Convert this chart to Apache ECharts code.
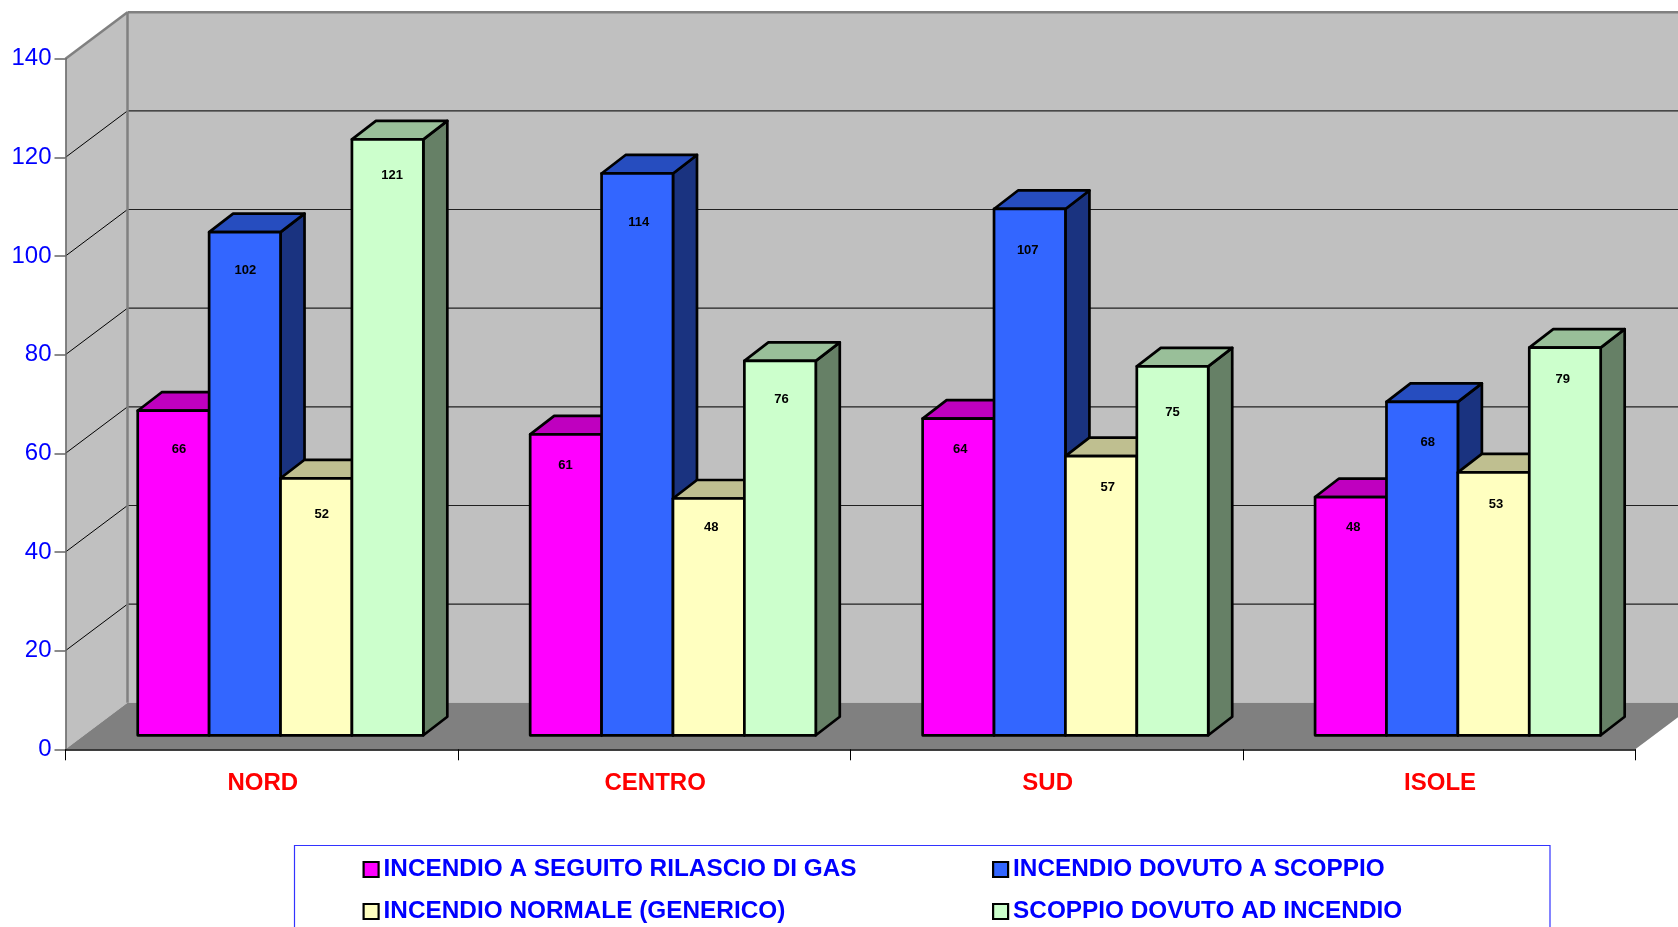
<!DOCTYPE html>
<html>
<head>
<meta charset="utf-8">
<style>html,body{margin:0;padding:0;background:#fff;overflow:hidden}#c{width:1678px;height:927px}</style>
<script src="https://cdn.jsdelivr.net/npm/echarts@6/dist/echarts.min.js"></script>
</head>
<body>
<div id="c"></div>
<script>
const categories = ['NORD', 'CENTRO', 'SUD', 'ISOLE'];
const yTicks = [20, 40, 60, 80, 100, 120];
const seriesNames = [
  'INCENDIO A SEGUITO RILASCIO DI GAS',
  'INCENDIO DOVUTO A SCOPPIO',
  'INCENDIO NORMALE (GENERICO)',
  'SCOPPIO DOVUTO AD INCENDIO'
];
// bar heights; the printed labels are these rounded
const gasValues = [65.8, 61, 64.2, 48.3];
const scoppioValues = [102, 113.9, 106.7, 67.6];
const normaleValues = [52.1, 48, 56.6, 53.3];
const incendioValues = [120.8, 75.9, 74.8, 78.6];

// styling and layout, separate from the data
const faces = [
  { front: '#FF00FF', top: '#BF00BF', side: '#800080' },
  { front: '#3366FF', top: '#264DBF', side: '#1A3380' },
  { front: '#FFFFC0', top: '#BFBF90', side: '#808060' },
  { front: '#CCFFCC', top: '#99BF99', side: '#668066' }
];
const labelShift = [
  [[5.5, 38.6], [-0.5, 31], [1.8, 30.6], [2.5, 30]],
  [[0.5, 38], [1.5, 48.7], [-2, 41], [5.5, 40.3]],
  [[5.5, 36], [2.5, 29], [6.5, 31], [2.5, 32]],
  [[4.5, 36], [1.5, 38.5], [0, 45.7], [-2.2, 32.3]]
];
const WALL_DX = 62, WALL_DY = 46.5;
const BAR_OX = 18.8, BAR_OY = 14, BAR_DX = 24, BAR_DY = 18.5, BAR_W = 71.4, BAR_LW = 2.7;

function poly(points, fill, stroke, lineWidth) {
  return {
    type: 'polygon',
    shape: { points },
    style: { fill: fill, stroke: stroke || 'none', lineWidth: lineWidth || 0, lineJoin: 'round' },
    silent: true
  };
}
function line(x1, y1, x2, y2, stroke, lineWidth) {
  return {
    type: 'line',
    shape: { x1, y1, x2, y2 },
    style: { stroke, lineWidth },
    silent: true
  };
}

function renderWalls(params, api) {
  const cs = params.coordSys;
  const x0 = cs.x, x1 = cs.x + cs.width;
  const yBase = api.coord([0, 0])[1], yTop = api.coord([0, 140])[1];
  const bx0 = x0 + WALL_DX, bx1 = x1 + WALL_DX;
  const children = [
    poly([[bx0, yTop - WALL_DY], [bx1, yTop - WALL_DY], [bx1, yBase - WALL_DY], [bx0, yBase - WALL_DY]], '#C0C0C0'),
    poly([[x0, yTop], [bx0, yTop - WALL_DY], [bx0, yBase - WALL_DY], [x0, yBase]], '#C0C0C0'),
    poly([[x0, yBase], [x1, yBase], [bx1, yBase - WALL_DY], [bx0, yBase - WALL_DY]], '#808080')
  ];
  yTicks.forEach(v => {
    const y = api.coord([0, v])[1];
    children.push(line(x0, y, bx0, y - WALL_DY, '#000', 1));
    children.push(line(bx0, y - WALL_DY, bx1, y - WALL_DY, '#202020', 1.2));
  });
  children.push(line(bx0, yTop - WALL_DY, bx1, yTop - WALL_DY, '#808080', 2.5));
  children.push(line(bx0, yTop - WALL_DY, bx0, yBase - WALL_DY, '#808080', 2.5));
  children.push(line(x0, yTop, bx0, yTop - WALL_DY, '#808080', 2.5));
  return { type: 'group', children };
}

function barRenderer(seriesIndex) {
  return function (params, api) {
    const cat = api.value(0), val = api.value(1);
    const top = api.coord([cat, val]);
    const base = api.coord([cat, 0]);
    const left = top[0] + BAR_OX + (seriesIndex - 2) * BAR_W;
    const right = left + BAR_W;
    const yT = top[1] - BAR_OY, yB = base[1] - BAR_OY;
    const f = faces[seriesIndex];
    const s = labelShift[seriesIndex][cat];
    return {
      type: 'group',
      children: [
        poly([[right, yT], [right + BAR_DX, yT - BAR_DY], [right + BAR_DX, yB - BAR_DY], [right, yB]], f.side, '#000', BAR_LW),
        poly([[left, yT], [left + BAR_DX, yT - BAR_DY], [right + BAR_DX, yT - BAR_DY], [right, yT]], f.top, '#000', BAR_LW),
        poly([[left, yT], [right, yT], [right, yB], [left, yB]], f.front, '#000', BAR_LW),
        {
          type: 'text',
          silent: true,
          style: {
            text: String(Math.round(val)),
            x: (left + right) / 2 + s[0],
            y: yT + s[1],
            fill: '#000',
            font: 'bold 13px "Liberation Sans", Arial, sans-serif',
            align: 'center',
            verticalAlign: 'middle'
          }
        }
      ]
    };
  };
}

const allValues = [gasValues, scoppioValues, normaleValues, incendioValues];
const series = [{
  type: 'custom',
  name: 'walls',
  z: 1,
  silent: true,
  clip: false,
  renderItem: renderWalls,
  data: [[0, 0]],
  encode: { x: 0, y: 1 }
}];
allValues.forEach((vals, i) => {
  series.push({
    type: 'custom',
    name: seriesNames[i],
    z: 4,
    clip: false,
    itemStyle: { color: faces[i].front },
    renderItem: barRenderer(i),
    data: vals.map((v, c) => [c, v]),
    encode: { x: 0, y: 1 }
  });
});

const legendSpots = [[362.5, 0], [992, 0], [362.5, 1], [992, 1]];
const legend = seriesNames.map((n, i) => ({
  data: [n],
  left: legendSpots[i][0],
  top: 857.5 + legendSpots[i][1] * 42,
  padding: 0,
  itemWidth: 15,
  itemHeight: 15,
  icon: 'rect',
  selectedMode: false,
  itemStyle: { borderColor: '#000', borderWidth: 2.2 },
  textStyle: { color: '#0000FF', fontWeight: 'bold', fontSize: 24.35, fontFamily: '"Liberation Sans", Arial, sans-serif' }
}));

const chart = echarts.init(document.getElementById('c'), null, { renderer: 'canvas' });
chart.setOption({
  animation: false,
  backgroundColor: '#fff',
  grid: { left: 65.5, top: 58.7, width: 1569.8, height: 690.6, containLabel: false },
  legend,
  xAxis: {
    type: 'category',
    data: categories,
    z: 3,
    boundaryGap: true,
    axisLine: { show: true, lineStyle: { color: '#000', width: 1.5 } },
    axisTick: { show: true, alignWithLabel: false, length: 11, lineStyle: { color: '#000', width: 1 } },
    axisLabel: { color: '#FF0000', fontWeight: 'bold', fontSize: 24, margin: 22, padding: [0, 0, 0, 2], fontFamily: '"Liberation Sans", Arial, sans-serif' },
    splitLine: { show: false }
  },
  yAxis: {
    type: 'value',
    min: 0,
    max: 140,
    interval: 20,
    z: 3,
    axisLine: { show: true, lineStyle: { color: '#666', width: 1.5 } },
    axisTick: { show: true, length: 11, lineStyle: { color: '#666', width: 1.5 } },
    axisLabel: { color: '#0000FF', fontSize: 24, margin: 14, fontFamily: '"Liberation Sans", Arial, sans-serif' },
    splitLine: { show: false }
  },
  graphic: [{
    type: 'rect',
    silent: true,
    shape: { x: 294.5, y: 845.5, width: 1255.5, height: 120 },
    style: { fill: 'none', stroke: '#3333FF', lineWidth: 1.2 }
  }],
  series
});
</script>
</body>
</html>
